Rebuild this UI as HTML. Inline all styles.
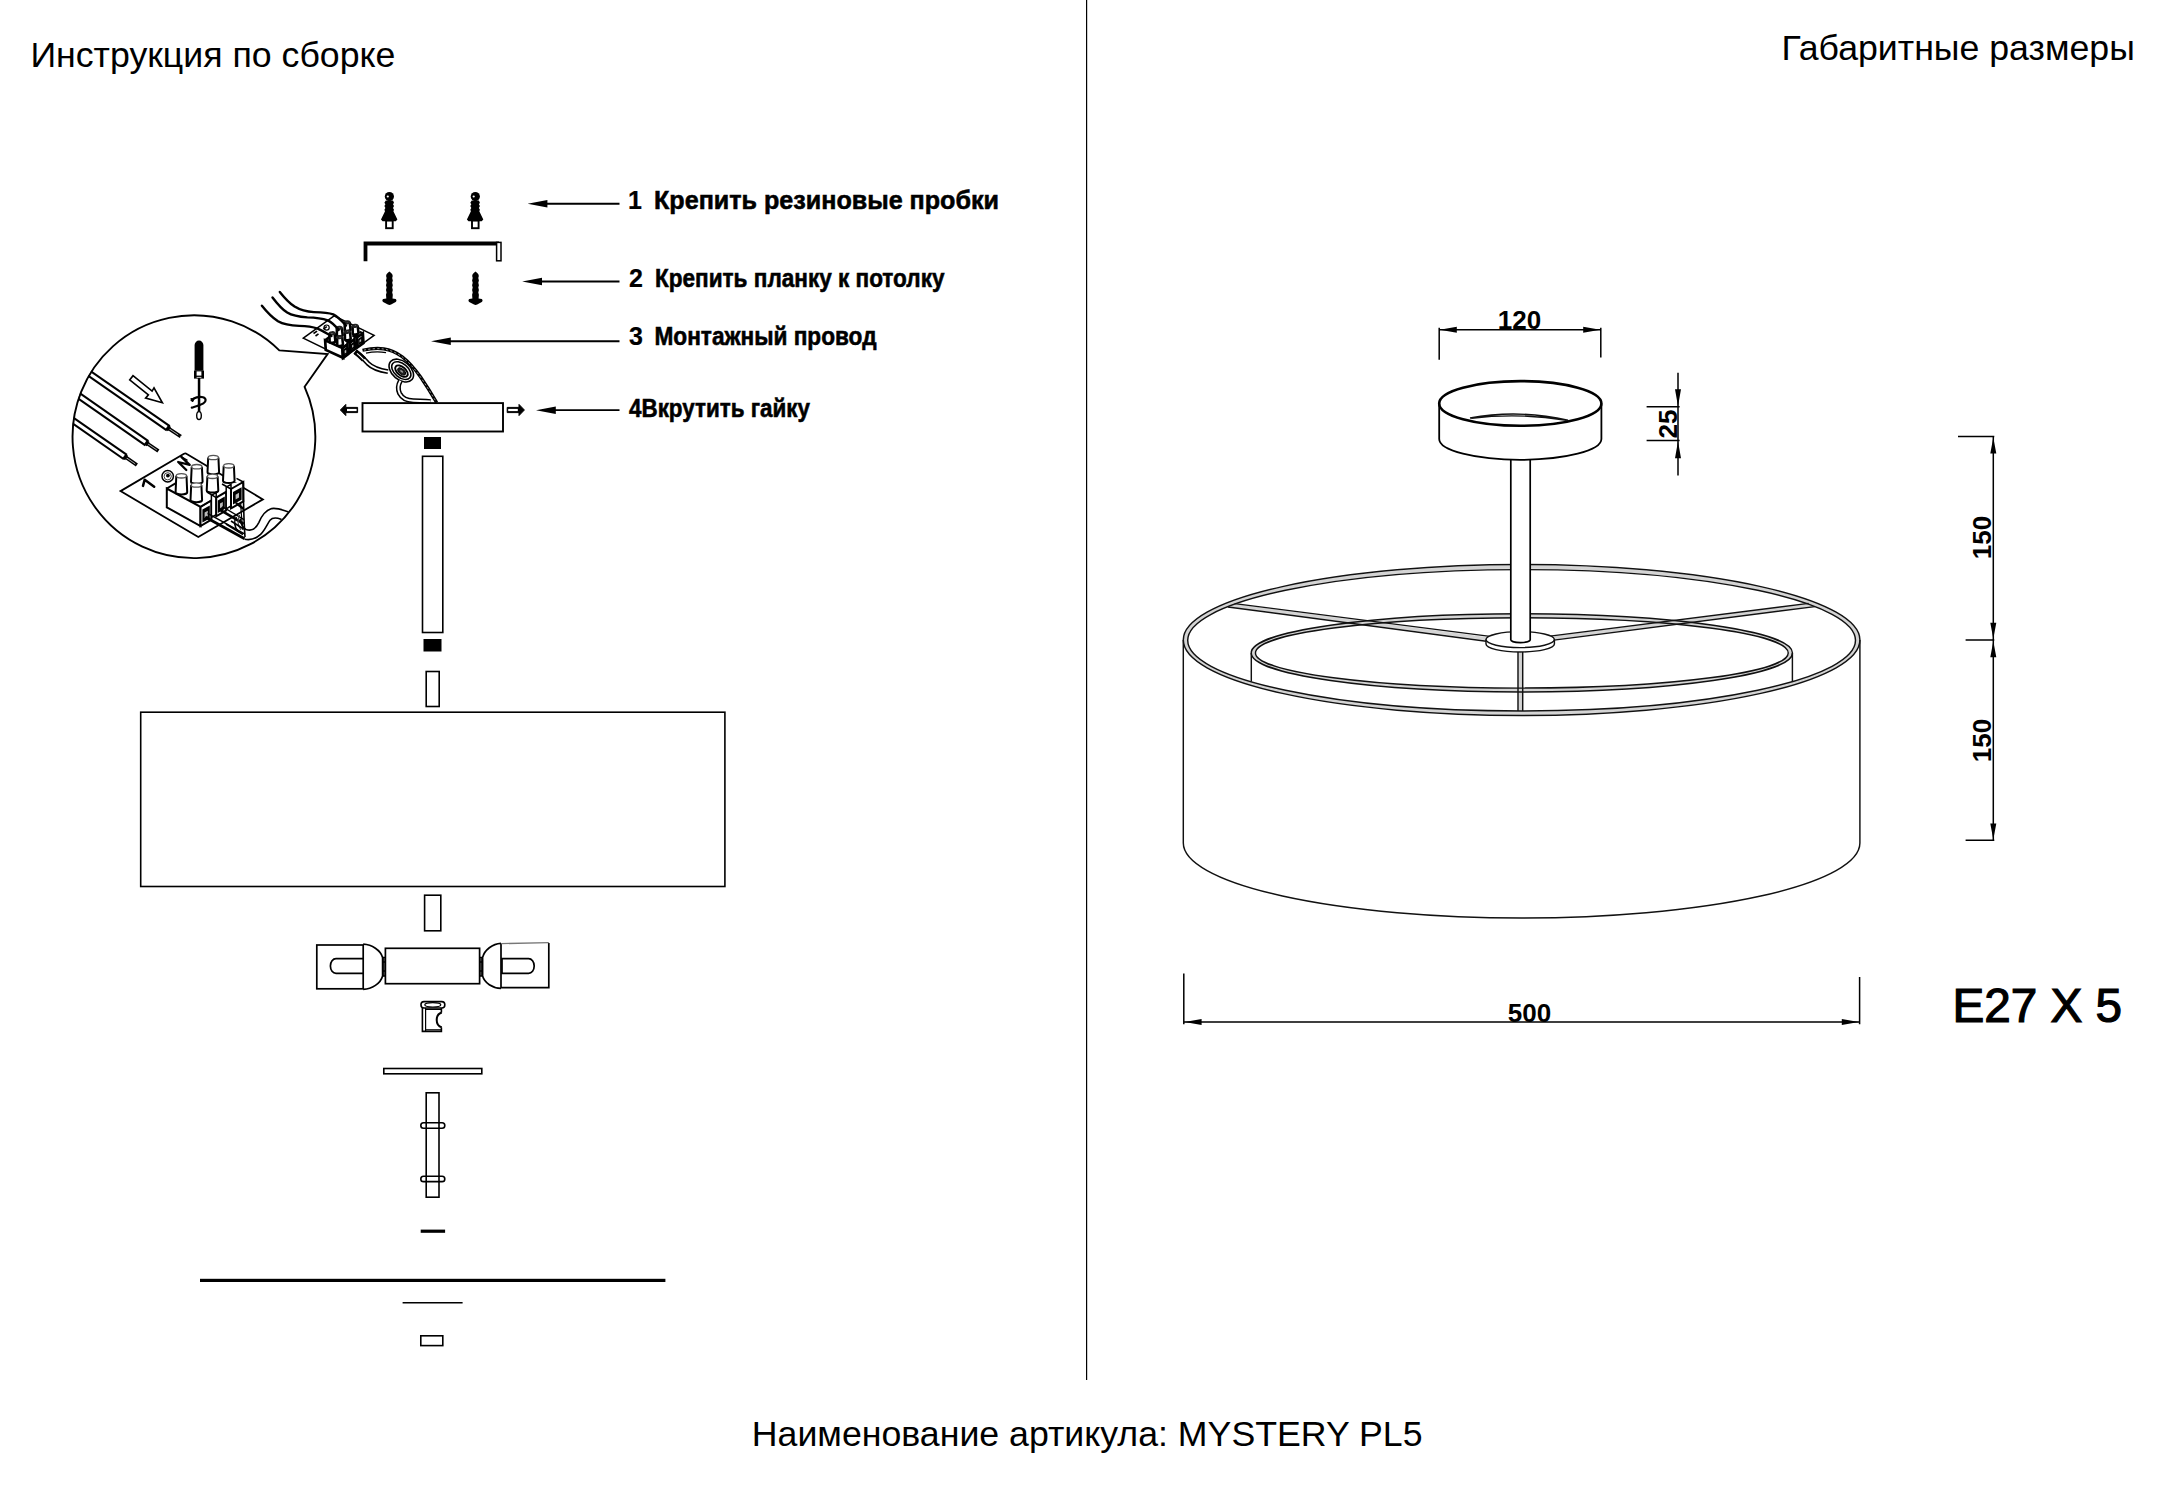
<!DOCTYPE html>
<html>
<head>
<meta charset="utf-8">
<title>MYSTERY PL5</title>
<style>
html,body{margin:0;padding:0;background:#fff;}
body{width:2174px;height:1500px;overflow:hidden;position:relative;font-family:"Liberation Sans",sans-serif;}
svg{position:absolute;left:0;top:0;display:block;}
text{font-family:"Liberation Sans",sans-serif;fill:#000;}
.h{font-size:35.7px;}
.lb{font-size:25px;font-weight:bold;stroke:#000;stroke-width:0.55px;}
.dm{font-size:26px;font-weight:bold;}
.s1{fill:none;stroke:#000;stroke-width:1.6;}
.s2{fill:none;stroke:#000;stroke-width:2.2;}
.sw{fill:#fff;stroke:#000;stroke-width:1.6;}
.t1{fill:none;stroke:#111;stroke-width:1.45;}
.k{fill:#000;stroke:none;}
#tb2 *{vector-effect:non-scaling-stroke;}
</style>
</head>
<body>
<svg width="2174" height="1500" viewBox="0 0 2174 1500">
<rect x="0" y="0" width="2174" height="1500" fill="#fff"/>
<!-- divider -->
<rect x="1086" y="0" width="1.2" height="1380" fill="#000"/>

<!-- headings -->
<text class="h" x="30.4" y="66.9">Инструкция по сборке</text>
<text class="h" x="1781.4" y="60">Габаритные размеры</text>
<text class="h" x="751.8" y="1445.8">Наименование артикула: MYSTERY PL5</text>

<!-- ===== LEFT: step labels ===== -->
<g id="labels">
<text class="lb" style="stroke-width:0.2px" x="628" y="208.5">1</text>
<text class="lb" x="654" y="208.5" textLength="345" lengthAdjust="spacingAndGlyphs">Крепить резиновые пробки</text>
<text class="lb" style="stroke-width:0.2px" x="629" y="286.5">2</text>
<text class="lb" x="655" y="286.5" textLength="289.5" lengthAdjust="spacingAndGlyphs">Крепить планку к потолку</text>
<text class="lb" style="stroke-width:0.2px" x="629" y="345">3</text>
<text class="lb" x="654.5" y="345" textLength="222" lengthAdjust="spacingAndGlyphs">Монтажный провод</text>
<text class="lb" x="629" y="417" textLength="181" lengthAdjust="spacingAndGlyphs">4Вкрутить гайку</text>
</g>

<!-- label arrows -->
<g id="larrows" class="k">
<path d="M619.5 204.7H546v-1.9H619.5z M527.6 203.8l19.8-3.7v7.4z"/>
<path d="M619.5 282.4H540.5v-1.9H619.5z M522.2 281.5l19.8-3.7v7.4z"/>
<path d="M619.5 342.2H449.5v-1.9H619.5z M431 341.3l19.8-3.7v7.4z"/>
<path d="M619.5 411.1H554.5v-1.9H619.5z M536 410.2l19.8-3.7v7.4z"/>
</g>

<!-- ===== LEFT: exploded parts (simple) ===== -->
<g id="parts">
<!-- black nut 1 -->
<rect class="k" x="424" y="437" width="17" height="12"/>
<!-- rod -->
<rect class="s1" x="422.5" y="456.3" width="20.3" height="176.2"/>
<!-- black nut 2 -->
<rect class="k" x="423.5" y="639" width="18" height="12.5"/>
<!-- small tube -->
<rect class="s1" x="426.2" y="671.5" width="13" height="35"/>
<!-- shade -->
<rect class="s1" x="140.7" y="712.2" width="584.2" height="174.3"/>
<!-- small tube 2 -->
<rect class="s1" x="424.6" y="895.2" width="16.2" height="35.6"/>
<!-- thin plate -->
<rect class="s1" x="383.8" y="1068.5" width="98" height="5.3"/>
<!-- threaded rod -->
<rect class="s1" x="426.2" y="1092.8" width="12.8" height="104.4"/>
<rect class="s1" x="420.8" y="1122.8" width="24" height="5.4" rx="2.7"/>
<rect class="s1" x="420.8" y="1176.2" width="24" height="5.4" rx="2.7"/>
<!-- short dash -->
<rect class="k" x="420.7" y="1229.6" width="24.4" height="3.2"/>
<!-- long line -->
<rect class="k" x="200" y="1278.8" width="465.4" height="3.2"/>
<!-- thin line -->
<rect class="k" x="402.6" y="1302" width="60" height="1.5"/>
<!-- small rect -->
<rect class="s1" x="420.8" y="1335.8" width="22" height="9.8"/>
</g>



<!-- ===== LEFT: detailed parts ===== -->
<g id="hardware">
<g transform="translate(389.4 0)">
<circle cx="0" cy="196.6" r="4.6" fill="#000"/>
<circle cx="-1.6" cy="196.5" r="1.1" fill="#fff"/>
<path class="k" d="M-3.6 200.5h7.2l1 2.2-1 1.6 1 1.8-1 1.8 1 1.8-0.6 1.6 4 8.2 -1.6 1.7h-4.2v-1h-4.8v1h-4.2l-1.6-1.7 4-8.2-0.6-1.6 1-1.8-1-1.8 1-1.8-1-1.6z"/>
<rect x="-3.3" y="220.6" width="6.6" height="7.6" fill="#fff" stroke="#000" stroke-width="1.9"/>
</g><g transform="translate(475.3 0)">
<circle cx="0" cy="196.6" r="4.6" fill="#000"/>
<circle cx="-1.6" cy="196.5" r="1.1" fill="#fff"/>
<path class="k" d="M-3.6 200.5h7.2l1 2.2-1 1.6 1 1.8-1 1.8 1 1.8-0.6 1.6 4 8.2 -1.6 1.7h-4.2v-1h-4.8v1h-4.2l-1.6-1.7 4-8.2-0.6-1.6 1-1.8-1-1.8 1-1.8-1-1.6z"/>
<rect x="-3.3" y="220.6" width="6.6" height="7.6" fill="#fff" stroke="#000" stroke-width="1.9"/>
</g>
<!-- bracket -->
<path class="k" d="M363.6 241.6H499V245.4H367.4V261.2H363.6z"/>
<rect x="496.6" y="242.4" width="4.4" height="18.4" fill="#fff" stroke="#000" stroke-width="1.5"/>
<g transform="translate(389.4 0)">
<path class="k" d="M0 271.6c1.6 1.2 3.2 2.6 3.3 4.4l-0.5 2 0.6 2.4-0.6 2.4 0.6 2.4-0.6 2.4 0.6 2.4-0.6 2.4 0.6 2.4-0.3 3.8 3.2 0.4c1 0.9 1 2.2 0 3l-4.6 2.6c-1 0.6-2.2 0.6-3.2 0l-4.8-2.6c-1-0.8-1-2.1 0-3l3.2-0.4-0.3-3.8 0.6-2.4-0.6-2.4 0.6-2.4-0.6-2.4 0.6-2.4-0.6-2.4 0.6-2.4-0.5-2c0.1-1.8 1.7-3.2 3.3-4.4z"/>
</g><g transform="translate(475.5 0)">
<path class="k" d="M0 271.6c1.6 1.2 3.2 2.6 3.3 4.4l-0.5 2 0.6 2.4-0.6 2.4 0.6 2.4-0.6 2.4 0.6 2.4-0.6 2.4 0.6 2.4-0.3 3.8 3.2 0.4c1 0.9 1 2.2 0 3l-4.6 2.6c-1 0.6-2.2 0.6-3.2 0l-4.8-2.6c-1-0.8-1-2.1 0-3l3.2-0.4-0.3-3.8 0.6-2.4-0.6-2.4 0.6-2.4-0.6-2.4 0.6-2.4-0.6-2.4 0.6-2.4-0.5-2c0.1-1.8 1.7-3.2 3.3-4.4z"/>
</g>
<!-- canopy pull arrows -->
<path d="M340.4 410l5.4-5.6v3h11.8v5.2h-11.8v3z" fill="#000" stroke="#000" stroke-width="1" stroke-linejoin="round"/>
<rect x="347" y="408.9" width="9.6" height="2.2" fill="#fff"/>
<path d="M524.4 410l-5.4-5.6v3h-11.8v5.2h11.8v3z" fill="#000" stroke="#000" stroke-width="1" stroke-linejoin="round"/>
<rect x="508.2" y="408.9" width="9.6" height="2.2" fill="#fff"/>
</g>

<!-- lamp-holder cross bar -->
<g id="sockets" class="s1" style="stroke-width:1.7">
<rect x="316.8" y="945" width="46.4" height="43.8"/>
<path d="M363.2 944.2C372 944.6 380.5 950 382.6 957.4V976C380.5 983.6 372 989 363.2 989.4"/>
<path d="M363.2 958.7H336a5.6 7.3 0 0 0 0 14.6H363.2"/>
<path d="M382.6 957.4h2.8M382.6 962h2.8M382.6 971h2.8M382.6 976h2.8" style="stroke-width:1.3"/>
<path d="M383.9 957.4V976" style="stroke-width:1.5"/>
<rect x="385.4" y="948.3" width="94.2" height="35.4"/>
<path d="M479.6 957.4h2.8M479.6 962h2.8M479.6 971h2.8M479.6 976h2.8" style="stroke-width:1.3"/>
<path d="M481.1 957.4V976" style="stroke-width:1.5"/>
<path d="M501 943.4C492.4 943.8 484.6 949.8 482.6 957.4V976C484.6 983 492.4 988 501 988.4"/>
<path d="M501 943.6V988.2M501 987.6H548.8V943" />
<path d="M501 943.6L548.8 942.6" style="stroke:#777;stroke-width:1.4"/>
<path d="M502 958.7H528.6a5.6 7.3 0 0 1 0 14.6H502z"/>
</g>

<!-- small fitting -->
<g id="fitting" class="s1" style="stroke-width:1.6">
<rect x="421" y="1001.6" width="23.8" height="6.4" rx="3"/>
<ellipse cx="432.8" cy="1004.8" rx="8" ry="2.2" style="stroke-width:1.2"/>
<path d="M422.4 1008V1031.4H441.4V1027.4" />
<path d="M441.4 1008V1012.5" />
<path d="M441.8 1012.5C435 1014.5 435 1025.4 441.8 1027.4" style="stroke-width:2"/>
<path d="M425.6 1008V1031.4" style="stroke-width:1.2"/>
<path d="M425.6 1029.8H441" style="stroke-width:1.2"/>
<path d="M425.6 1009.4H441" style="stroke-width:1.2"/>
</g>

<!-- small terminal block with wires -->
<g id="smallblock">
<path d="M303.3 338.2L334.1 315.9L374.1 335.4L343.3 357.7z" fill="#fff" stroke="#000" stroke-width="1.5"/>
<path d="M313.5 333.5l3.6-2.4M315.5 336l3-2.2M323.4 329l3.4-2.4" stroke="#000" stroke-width="1.6" fill="none"/>
<circle cx="326.6" cy="327.6" r="2.6" fill="none" stroke="#000" stroke-width="1.2"/>
<g id="tb2" transform="translate(-1 5.8) matrix(0.4953 -0.0493 0.0319 0.5084 227.95 94.46)">
<!-- terminal block body -->
<path d="M166.8 488.5L176.4 482.8 243.3 482.8 243.3 502 200.5 526.1 166.8 507.3z" fill="#fff" stroke="none"/>
<path class="s1" style="stroke-width:2.70" d="M166.8 488.5V507.3L200.5 526.1V506.9z"/>
<path class="s1" style="stroke-width:2.70" d="M166.8 488.5L177.5 482.2"/>
<!-- way 1 end -->
<path d="M200.5 506.9L211.4 500.4V519.6L200.5 526.1z" fill="#fff" stroke="#000" stroke-width="2.70"/>
<path d="M202.4 509.6L209.8 505.4V518.4L202.4 522.6z" fill="#000"/>
<path d="M204.6 512.6L207.8 510.8V516.2L204.6 518z" fill="#bbb"/>
<!-- divider 1 -->
<path d="M211.4 495.4L216.2 492.6V514.6L211.4 517.4z" fill="#fff" stroke="#000" stroke-width="2.25"/>
<!-- way 2 end -->
<path d="M216.2 497.7L226.2 491.8V510.4L216.2 516.3z" fill="#fff" stroke="#000" stroke-width="2.70"/>
<path d="M217.8 500.6L224.8 496.6V509L217.8 513z" fill="#000"/>
<path d="M220 503.6L222.8 502V506.6L220 508.2z" fill="#bbb"/>
<!-- divider 2 -->
<path d="M226.2 487.2L231 484.4V506L226.2 508.8z" fill="#fff" stroke="#000" stroke-width="2.25"/>
<!-- way 3 end -->
<path d="M231 489L243.3 482V501.4L231 508.4z" fill="#fff" stroke="#000" stroke-width="2.70"/>
<path d="M233 492L241.6 487.2V499.8L233 504.6z" fill="#000"/>
<path d="M235.6 494.8L239 492.8V497.4L235.6 499.4z" fill="#bbb"/>
<!-- top surface edges -->
<path class="s1" style="stroke-width:2.25" d="M200.5 506.9L211.4 500.4 M207 492L216.2 497.7 M222 484L231 489 M236.5 478.4L243.3 482"/>
<!-- posts (back to front) -->
<path d="M208.2 457.5L207.5 472.2A5.8 2.2 0 0 0 219.1 472.2L218.4 457.5" fill="#fff" stroke="#000" stroke-width="2.55"/><ellipse cx="213.3" cy="457.5" rx="5.1" ry="2.2" fill="#fff" stroke="#222" stroke-width="1.95"/><path d="M223.7 465.8L223.0 480.8A5.8 2.2 0 0 0 234.6 480.8L233.9 465.8" fill="#fff" stroke="#000" stroke-width="2.55"/><ellipse cx="228.8" cy="465.8" rx="5.1" ry="2.2" fill="#fff" stroke="#222" stroke-width="1.95"/><path d="M191.7 466.7L191.0 481.7A5.8 2.2 0 0 0 202.6 481.7L201.9 466.7" fill="#fff" stroke="#000" stroke-width="2.55"/><ellipse cx="196.8" cy="466.7" rx="5.1" ry="2.2" fill="#fff" stroke="#222" stroke-width="1.95"/><path d="M207.4 476.3L206.7 490.4A5.8 2.2 0 0 0 218.3 490.4L217.6 476.3" fill="#fff" stroke="#000" stroke-width="2.55"/><ellipse cx="212.5" cy="476.3" rx="5.1" ry="2.2" fill="#fff" stroke="#222" stroke-width="1.95"/><path d="M176.3 475.8L175.6 492.2A5.8 2.2 0 0 0 187.2 492.2L186.5 475.8" fill="#fff" stroke="#000" stroke-width="2.55"/><ellipse cx="181.4" cy="475.8" rx="5.1" ry="2.2" fill="#fff" stroke="#222" stroke-width="1.95"/><path d="M191.2 485.0L190.5 500.0A5.8 2.2 0 0 0 202.1 500.0L201.4 485.0" fill="#fff" stroke="#000" stroke-width="2.55"/><ellipse cx="196.3" cy="485.0" rx="5.1" ry="2.2" fill="#fff" stroke="#222" stroke-width="1.95"/>
</g>
<!-- supply wires -->
<g fill="none" stroke="#000" stroke-width="2.4" stroke-linecap="round">
<path d="M279.8 291.9C283 296 288 302 294.6 306.6 300 310 306 311.8 313.9 312.1 320 312.2 328 312.4 333.2 314.4 338 316.6 341 320 346 325.5"/>
<path d="M272.5 297.4C276 302 281 308.4 287.2 312.6 292 315.6 300 317 307.4 317.4 314 317.6 322 318.4 327.7 320.4 332 322.4 335 325.4 338.6 330"/>
<path d="M261.9 305.7C265 309.6 271 316.6 278 321.3 283 324.2 290 325.6 299.2 325.9 305 326 312 326.6 317.6 328.7 321 330 326 333 331.5 336"/>
</g>
<!-- big arc wire to canopy -->
<path d="M362.5 350.2C370 348.6 378 348 383.8 348.9 391 350 397 353 402.2 356.7 409 362 415 369 420.6 377 427 386.4 432 394.6 436.7 402.6" fill="none" stroke="#000" stroke-width="3.2"/>
<path d="M364 350.1C370 348.8 378 348.2 383.8 349 391 350.2 397 353.2 402.2 356.9 409 362.2 415 369.2 420.6 377.2 427 386.6 432 394.8 436.4 402.2" fill="none" stroke="#bbb" stroke-width="0.8" stroke-dasharray="2.2 2.2"/>
<path d="M366 353.2C372 351.8 380 351.6 386 352.6" fill="none" stroke="#000" stroke-width="1.2"/>
<!-- wire to ground lug -->
<path d="M355.4 352C360 355 364 359 368 363.4 372 367.4 378 370 388 371.6" fill="none" stroke="#000" stroke-width="5"/>
<path d="M355.4 352C360 355 364 359 368 363.4 372 367.4 378 370 388 371.6" fill="none" stroke="#fff" stroke-width="1.8"/>
<path d="M355 351.4C358 353.6 361 356.4 364 359.4" fill="none" stroke="#000" stroke-width="5.6"/>
<path d="M357 353.4C359 355 361.4 357.4 363.6 359.6" fill="none" stroke="#fff" stroke-width="1.2"/>
<!-- lug -->
<g transform="translate(401.3 370.6) rotate(40)">
<ellipse cx="0" cy="0" rx="14" ry="9.2" fill="#fff" stroke="#000" stroke-width="1.6"/>
<ellipse cx="0" cy="0" rx="11.2" ry="6.8" fill="none" stroke="#000" stroke-width="1.5"/>
<ellipse cx="0.5" cy="0.3" rx="7.4" ry="4.2" fill="#fff" stroke="#000" stroke-width="1.9"/>
<ellipse cx="0.8" cy="0.4" rx="4.6" ry="2.4" fill="#222" stroke="#000" stroke-width="1"/>
<ellipse cx="0.8" cy="0.4" rx="1.8" ry="0.9" fill="#999"/>
</g>
<!-- wire from lug to canopy -->
<path d="M400.4 380.8C398 385 398 390 399.6 393.4 402 398 407 400.6 413.2 400.8 419 401.2 425 400.6 430.5 401.6" fill="none" stroke="#000" stroke-width="5"/>
<path d="M400.4 380.8C398 385 398 390 399.6 393.4 402 398 407 400.6 413.2 400.8 419 401.2 425 400.6 430.5 401.6" fill="none" stroke="#fff" stroke-width="2"/>
</g>

<!-- canopy box -->
<rect class="s1" style="stroke-width:1.9" x="362.5" y="403.1" width="140.5" height="28.4"/>
<!-- inset circle with callout -->
<defs><filter id="thick" x="-10%" y="-10%" width="120%" height="120%"><feMorphology operator="erode" radius="0.45"/></filter><clipPath id="cc"><circle cx="193.5" cy="436" r="121.4"/></clipPath></defs>
<g id="inset">
<g clip-path="url(#cc)">
<path d="M60 353L168.3 428.2" stroke="#000" stroke-width="7.3" fill="none"/><path d="M60 353L168.3 428.2" stroke="#fff" stroke-width="3.2" fill="none"/><path d="M168.3 428.2L180.8 436.6" stroke="#000" stroke-width="3.6" fill="none"/><path d="M168.3 428.2L180.8 436.6" stroke="#aaa" stroke-width="1.0" fill="none" stroke-dasharray="12 2"/><path d="M166.8 427.2L169.5 429.09999999999997" stroke="#000" stroke-width="5.2" fill="none"/><path d="M50 375.6L146.9 443.2" stroke="#000" stroke-width="7.3" fill="none"/><path d="M50 375.6L146.9 443.2" stroke="#fff" stroke-width="3.2" fill="none"/><path d="M146.9 443.2L158.4 451" stroke="#000" stroke-width="3.6" fill="none"/><path d="M146.9 443.2L158.4 451" stroke="#aaa" stroke-width="1.0" fill="none" stroke-dasharray="12 2"/><path d="M145.4 442.2L148.1 444.09999999999997" stroke="#000" stroke-width="5.2" fill="none"/><path d="M40 397.5L125.4 457.1" stroke="#000" stroke-width="7.3" fill="none"/><path d="M40 397.5L125.4 457.1" stroke="#fff" stroke-width="3.2" fill="none"/><path d="M125.4 457.1L136.9 465" stroke="#000" stroke-width="3.6" fill="none"/><path d="M125.4 457.1L136.9 465" stroke="#aaa" stroke-width="1.0" fill="none" stroke-dasharray="12 2"/><path d="M123.9 456.1L126.60000000000001 458.0" stroke="#000" stroke-width="5.2" fill="none"/>
<!-- cable leaving the block -->
<path class="s1" d="M240.2 518.7C240.8 524 242 527.6 246 529.4 252 531.6 256.4 527.6 258.8 522.6 261.4 516.4 264.6 510.6 271.7 508.6 277 507.4 283 510.4 290 512.4 300 514 310 512 320 508"/>
<path class="s1" d="M244.6 539.2C250 540.4 256 538.6 260.6 534.4 265 530 267.4 523.6 270 520.2 272.6 517.2 276.6 517.6 281 519.2 290 521.6 300 520 315 516"/>
</g>
<!-- hollow arrow -->
<path d="M133 375.7L152.1 391.1 154 387.9 162.4 402.8 145.6 398.1 148.4 394.9 129.7 379.9z" fill="#fff" stroke="#000" stroke-width="1.6" stroke-linejoin="miter"/>
<!-- screwdriver -->
<path class="k" d="M194.6 370.8V345a4.4 4.4 0 0 1 8.8 0V370.8z"/>
<rect x="194" y="370.6" width="10" height="8" fill="#000"/>
<rect x="196.6" y="371.4" width="4.8" height="4.2" fill="#fff"/>
<path d="M196.6 377.4h4.8" stroke="#fff" stroke-width="0.8"/>
<rect x="197.8" y="378" width="2.5" height="34.5" fill="#000"/>
<ellipse cx="199" cy="415.6" rx="2.3" ry="4" fill="#fff" stroke="#000" stroke-width="1.4"/>
<path d="M191.6 400.2C194 397.8 199 396.2 203 397.2 206.4 398.2 206.4 401.6 203.4 403.4 200 405.4 195 406.6 191.8 407.6" fill="none" stroke="#000" stroke-width="2.2" stroke-linecap="round"/>
<path d="M190.8 398.6l3.4 0.2-1.6 3.2z" fill="#000" stroke="#000" stroke-width="1"/>
<!-- mounting plate -->
<path class="s1" style="stroke-width:1.8;fill:#fff" d="M120.5 491.1L184 453.8Q185.4 453 186.8 453.9L262.9 499.4L198.3 537z"/>
<!-- plate inner corner detail -->
<path class="s1" d="M181 456.5L187.5 460.4" style="stroke-width:1.3"/>
<!-- L N ground -->
<path d="M143 485.9L144.7 479.7L154.2 486.8" fill="none" stroke="#000" stroke-width="2.5" stroke-linecap="round" stroke-linejoin="round"/>
<path d="M181.3 456.9L189.7 464.9L178.2 462L186.3 470" fill="none" stroke="#000" stroke-width="2.3" stroke-linecap="round" stroke-linejoin="round"/>
<circle cx="167.7" cy="476.3" r="5.7" fill="#fff" stroke="#000" stroke-width="1.5"/>
<circle cx="167.7" cy="476.3" r="3.6" fill="none" stroke="#444" stroke-width="1"/>
<circle cx="167.9" cy="475.6" r="1.9" fill="#000"/>
<g id="tb">
<!-- terminal block body -->
<path d="M166.8 488.5L176.4 482.8 243.3 482.8 243.3 502 200.5 526.1 166.8 507.3z" fill="#fff" stroke="none"/>
<path class="s1" style="stroke-width:2" d="M166.8 488.5V507.3L200.5 526.1V506.9z"/>
<path class="s1" style="stroke-width:2" d="M166.8 488.5L177.5 482.2"/>
<!-- way 1 end -->
<path d="M200.5 506.9L211.4 500.4V519.6L200.5 526.1z" fill="#fff" stroke="#000" stroke-width="2"/>
<path d="M202.4 509.6L209.8 505.4V518.4L202.4 522.6z" fill="#000"/>
<path d="M204.6 512.6L207.8 510.8V516.2L204.6 518z" fill="#bbb"/>
<!-- divider 1 -->
<path d="M211.4 495.4L216.2 492.6V514.6L211.4 517.4z" fill="#fff" stroke="#000" stroke-width="1.5"/>
<!-- way 2 end -->
<path d="M216.2 497.7L226.2 491.8V510.4L216.2 516.3z" fill="#fff" stroke="#000" stroke-width="2"/>
<path d="M217.8 500.6L224.8 496.6V509L217.8 513z" fill="#000"/>
<path d="M220 503.6L222.8 502V506.6L220 508.2z" fill="#bbb"/>
<!-- divider 2 -->
<path d="M226.2 487.2L231 484.4V506L226.2 508.8z" fill="#fff" stroke="#000" stroke-width="1.5"/>
<!-- way 3 end -->
<path d="M231 489L243.3 482V501.4L231 508.4z" fill="#fff" stroke="#000" stroke-width="2"/>
<path d="M233 492L241.6 487.2V499.8L233 504.6z" fill="#000"/>
<path d="M235.6 494.8L239 492.8V497.4L235.6 499.4z" fill="#bbb"/>
<!-- top surface edges -->
<path class="s1" style="stroke-width:1.5" d="M200.5 506.9L211.4 500.4 M207 492L216.2 497.7 M222 484L231 489 M236.5 478.4L243.3 482"/>
<!-- posts (back to front) -->
<path d="M208.2 457.5L207.5 472.2A5.8 2.2 0 0 0 219.1 472.2L218.4 457.5" fill="#fff" stroke="#000" stroke-width="2"/><ellipse cx="213.3" cy="457.5" rx="5.1" ry="2.2" fill="#fff" stroke="#555" stroke-width="1.3"/><path d="M223.7 465.8L223.0 480.8A5.8 2.2 0 0 0 234.6 480.8L233.9 465.8" fill="#fff" stroke="#000" stroke-width="2"/><ellipse cx="228.8" cy="465.8" rx="5.1" ry="2.2" fill="#fff" stroke="#555" stroke-width="1.3"/><path d="M191.7 466.7L191.0 481.7A5.8 2.2 0 0 0 202.6 481.7L201.9 466.7" fill="#fff" stroke="#000" stroke-width="2"/><ellipse cx="196.8" cy="466.7" rx="5.1" ry="2.2" fill="#fff" stroke="#555" stroke-width="1.3"/><path d="M207.4 476.3L206.7 490.4A5.8 2.2 0 0 0 218.3 490.4L217.6 476.3" fill="#fff" stroke="#000" stroke-width="2"/><ellipse cx="212.5" cy="476.3" rx="5.1" ry="2.2" fill="#fff" stroke="#555" stroke-width="1.3"/><path d="M176.3 475.8L175.6 492.2A5.8 2.2 0 0 0 187.2 492.2L186.5 475.8" fill="#fff" stroke="#000" stroke-width="2"/><ellipse cx="181.4" cy="475.8" rx="5.1" ry="2.2" fill="#fff" stroke="#555" stroke-width="1.3"/><path d="M191.2 485.0L190.5 500.0A5.8 2.2 0 0 0 202.1 500.0L201.4 485.0" fill="#fff" stroke="#000" stroke-width="2"/><ellipse cx="196.3" cy="485.0" rx="5.1" ry="2.2" fill="#fff" stroke="#555" stroke-width="1.3"/>
</g>
<!-- wires out of block -->
<g clip-path="url(#cc)" fill="none" stroke="#000">
<path d="M205.3 517L244.6 538.8" stroke-width="2.8"/>
<path d="M207.6 513.4L245 534.2" stroke-width="1.4"/>
<path d="M220.1 509.9L243.7 523.9" stroke-width="2.6"/>
<path d="M222.4 506.6L244 519.6" stroke-width="1.3"/>
<path d="M235.9 502.9L243.7 509" stroke-width="2.4"/>
<path d="M243.3 483C243.4 500 243.8 520 245 537" stroke-width="1.6"/>
<path d="M240.6 502C241 510 241.6 520 243 530" stroke-width="1.2"/>
<path d="M236.5 517C233.6 521 234 527 238.5 531.6" stroke-width="1.5"/>
<path d="M239.6 515C237.4 520 238 526 241 530" stroke-width="1.2" stroke="#444"/>
<path d="M226 524L243 534.5M231 521L243.6 529" stroke-width="1.6"/>
</g>
<!-- circle outline -->
<path class="s1" style="stroke-width:1.9" d="M279.3 350.4L327.6 354L304.6 386.8A121.4 121.4 0 1 1 279.3 350.4z" />
</g>

<!-- ===== RIGHT: lamp drawing ===== -->
<g id="lamp">
<!-- grey infill between double lines -->
<g fill="none" stroke="#d4d4d4">
<ellipse cx="1521.6" cy="640.15" rx="336.1" ry="73.1" stroke-width="3.4"/>
<ellipse cx="1521.85" cy="652.9" rx="268.5" ry="37.15" stroke-width="3"/>
<path d="M1520.3 652.8V711" stroke-width="4"/>
<path d="M1231.3 605.3L1486 638.6 M1811.4 605L1554.6 637.8" stroke-width="3.4"/>
</g>
<!-- outer shade -->
<ellipse class="t1" cx="1521.6" cy="640" rx="338.3" ry="75.5"/>
<ellipse class="t1" cx="1521.6" cy="640.3" rx="333.9" ry="70.7"/>
<path class="t1" d="M1183.3 640V843A338.3 75 0 0 0 1859.9 843V640"/>
<!-- inner ring -->
<ellipse class="t1" cx="1521.85" cy="652.9" rx="270.6" ry="39.1"/>
<ellipse class="t1" cx="1521.85" cy="652.9" rx="266.4" ry="35.2"/>
<path class="t1" d="M1251.3 653V681.5 M1792.4 653V681.5"/>
<!-- bottom spoke -->
<path class="t1" d="M1518 650V711 M1522.7 650V711"/>
<!-- left spoke -->
<path class="t1" d="M1234.7 603.6L1490 636.4 M1227.9 607L1490 641.7"/>
<!-- right spoke -->
<path class="t1" d="M1808.6 603.4L1550 636.1 M1814.8 606.6L1550 640.6"/>
<!-- hub -->
<path class="t1" style="fill:#fff" d="M1486 639.6A34.2 8 0 0 1 1554.4 639.6V644A34.2 8 0 0 1 1486 644z"/>
<path class="t1" d="M1486 639.6A34.2 8 0 0 0 1554.4 639.6"/>
<!-- rod -->
<path class="s1" style="stroke-width:1.7;fill:#fff" d="M1510.8 459.3V639.8A9.7 2.8 0 0 0 1530.2 639.8V459.3"/>
<!-- canopy -->
<path class="t1" d="M1470 418 Q1518.5 409 1568 420.3 M1471.5 418.3 Q1518.5 412.6 1566.5 420.2"/>
<path class="s1" style="stroke-width:1.8" d="M1439.2 403.4V439A81.1 20.8 0 0 0 1601.4 439V403.4"/>
<ellipse cx="1520.3" cy="403.4" rx="81.1" ry="22.3" fill="none" stroke="#000" stroke-width="2.6"/>
</g>

<!-- dimension lines -->
<g id="dimlines" fill="none" stroke="#000" stroke-width="1.5">
<path d="M1439.2 327.7V359.8 M1600.8 327.7V357.5 M1439.2 329.8H1600.8"/>
<path d="M1678 372.7V475.4 M1646.6 406.8H1679.6 M1646.6 440.6H1679.6"/>
<path d="M1993.3 436.5V839.6 M1958 436.5H1994.3 M1965.6 639.9H1994.3 M1965.6 840.3H1994.3"/>
<path d="M1183.8 973.6V1024.2 M1859.6 977V1024.2 M1183.8 1022H1859.6"/>
</g>
<g id="dimheads" class="k">
<path d="M1439.8 329.8l17-3v6z M1600.2 329.8l-17-3v6z"/>
<path d="M1678 406.2l-3-17h6z M1678 441.2l-3 17h6z"/>
<path d="M1993.3 437.5l-3 16h6z M1993.3 638.7l-3-16h6z M1993.3 641.2l-3 16h6z M1993.3 839.6l-3-16h6z"/>
<path d="M1184.6 1022l17-3v6z M1858.8 1022l-17-3v6z"/>
</g>

<!-- ===== RIGHT: dimension texts ===== -->
<g id="dims">
<text class="dm" x="1519.5" y="329" text-anchor="middle">120</text>
<text class="dm" x="1529.5" y="1022" text-anchor="middle">500</text>
<text class="dm" transform="translate(1676.5 424) rotate(-90)" text-anchor="middle">25</text>
<text class="dm" transform="translate(1991 537.5) rotate(-90)" text-anchor="middle">150</text>
<text class="dm" transform="translate(1991 740.5) rotate(-90)" text-anchor="middle">150</text>
<text x="1952.4" y="1021.6" style="font-size:47.7px;stroke:#000;stroke-width:1.2;">E27 X 5</text>
</g>
</svg>
</body>
</html>
